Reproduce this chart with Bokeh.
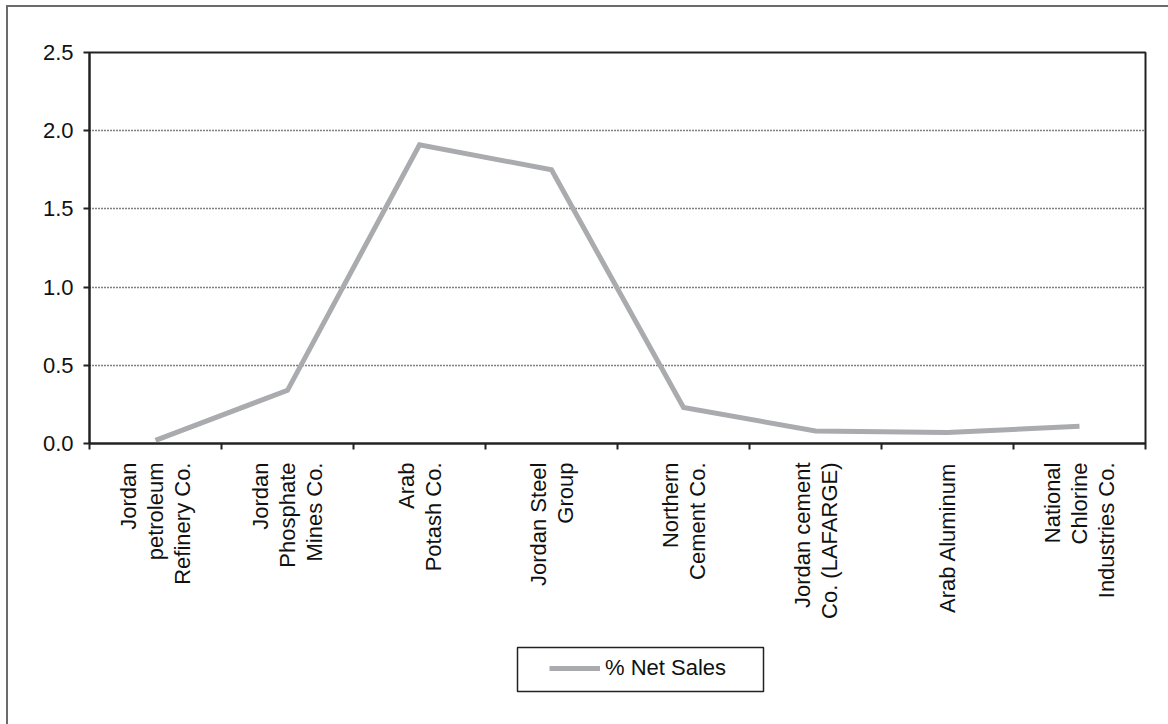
from math import pi
from bokeh.plotting import figure
from bokeh.layouts import column
from bokeh.models import (Range1d, LinearAxis, FixedTicker,
                          PrintfTickFormatter, Grid, Legend, LegendItem, BoxAnnotation)
from bokeh.embed import file_html
from bokeh.resources import INLINE

categories = [
    "Jordan\npetroleum\nRefinery Co.",
    "Jordan\nPhosphate\nMines Co.",
    "Arab\nPotash Co.",
    "Jordan Steel\nGroup",
    "Northern\nCement Co.",
    "Jordan cement\nCo. (LAFARGE)",
    "Arab Aluminum",
    "National\nChlorine\nIndustries Co.",
]
net_sales_pct = [0.02, 0.34, 1.91, 1.75, 0.23, 0.08, 0.07, 0.11]
y_ticks = [0.0, 0.5, 1.0, 1.5, 2.0, 2.5]
series_name = "% Net Sales"

FONT = "Liberation Sans"
FS = "22px"
TXT = "#111111"
LINE_COLOR = "#aaabaf"
AX = "#222222"

n = len(categories)
xpos = [i + 0.5 for i in range(n)]  # category slot centres

p = figure(width=1160, height=623,
           x_range=Range1d(0, n), y_range=Range1d(0, 2.5),
           x_axis_location=None, y_axis_location=None,
           output_backend="svg", toolbar_location=None,
           min_border_left=81, min_border_top=45, min_border_right=23, min_border_bottom=187)
p.grid.visible = False
p.outline_line_color = AX
p.outline_line_width = 2
p.background_fill_color = "white"
p.border_fill_color = "white"

# category axis: labels at slot centres, tick marks at slot boundaries (minor ticks)
cax = LinearAxis(ticker=FixedTicker(ticks=xpos, minor_ticks=list(range(n + 1))),
                 major_label_overrides={x: c for x, c in zip(xpos, categories)},
                 major_tick_line_color=None, major_tick_out=0, major_tick_in=0,
                 minor_tick_out=6, minor_tick_in=0,
                 minor_tick_line_color=AX, minor_tick_line_width=2,
                 axis_line_color=AX, axis_line_width=2,
                 major_label_orientation=pi / 2, major_label_standoff=13,
                 major_label_text_font=FONT, major_label_text_font_size=FS,
                 major_label_text_line_height=1.08,
                 major_label_text_color=TXT)
p.add_layout(cax, "below")

yax = LinearAxis(ticker=FixedTicker(ticks=y_ticks), formatter=PrintfTickFormatter(format="%.1f"),
                 major_tick_out=6, major_tick_in=0, minor_tick_out=0, minor_tick_in=0,
                 axis_line_color=AX, axis_line_width=2,
                 major_tick_line_color=AX, major_tick_line_width=2,
                 major_label_standoff=10, major_label_text_font=FONT,
                 major_label_text_font_size=FS, major_label_text_color=TXT)
p.add_layout(yax, "left")

p.add_layout(Grid(dimension=1, ticker=yax.ticker, grid_line_color="#000000",
                  grid_line_dash="1 2", grid_line_width=1.6))

r = p.line(x=xpos, y=net_sales_pct, line_color=LINE_COLOR, line_width=5, line_join="miter")

# legend strip below the chart; its frame is aligned with the chart frame (page x 89..1145)
p2 = figure(width=1160, height=94, x_range=Range1d(89, 1145), y_range=Range1d(724, 630),
            x_axis_location=None, y_axis_location=None,
            output_backend="svg", toolbar_location=None, min_border=0)
p2.grid.visible = False
p2.outline_line_color = None
p2.background_fill_color = "white"
p2.border_fill_color = "white"

# renderer only used for the legend swatch (kept outside the visible range)
r2 = p2.line(x=[0, 1], y=[0, 0], line_color=LINE_COLOR, line_width=5)

box = BoxAnnotation(left=517, right=763, top=647, bottom=691,
                    fill_alpha=0, line_color=AX, line_alpha=1, line_width=1.5)
p2.add_layout(box)

legend = Legend(items=[LegendItem(label=series_name, renderers=[r2])],
                location=(460, 43), padding=0, margin=0, spacing=0,
                border_line_color=None, background_fill_alpha=0,
                glyph_width=51, label_standoff=5,
                label_text_font=FONT, label_text_font_size=FS, label_text_color=TXT)
p2.add_layout(legend, "center")

layout = column(p, p2, spacing=0)
layout.margin = (5, 0, 0, 6)
layout.styles = {"border-top": "2px solid #6b6b6b", "border-left": "2px solid #6b6b6b"}

open("out.html", "w").write(file_html(layout, INLINE))
